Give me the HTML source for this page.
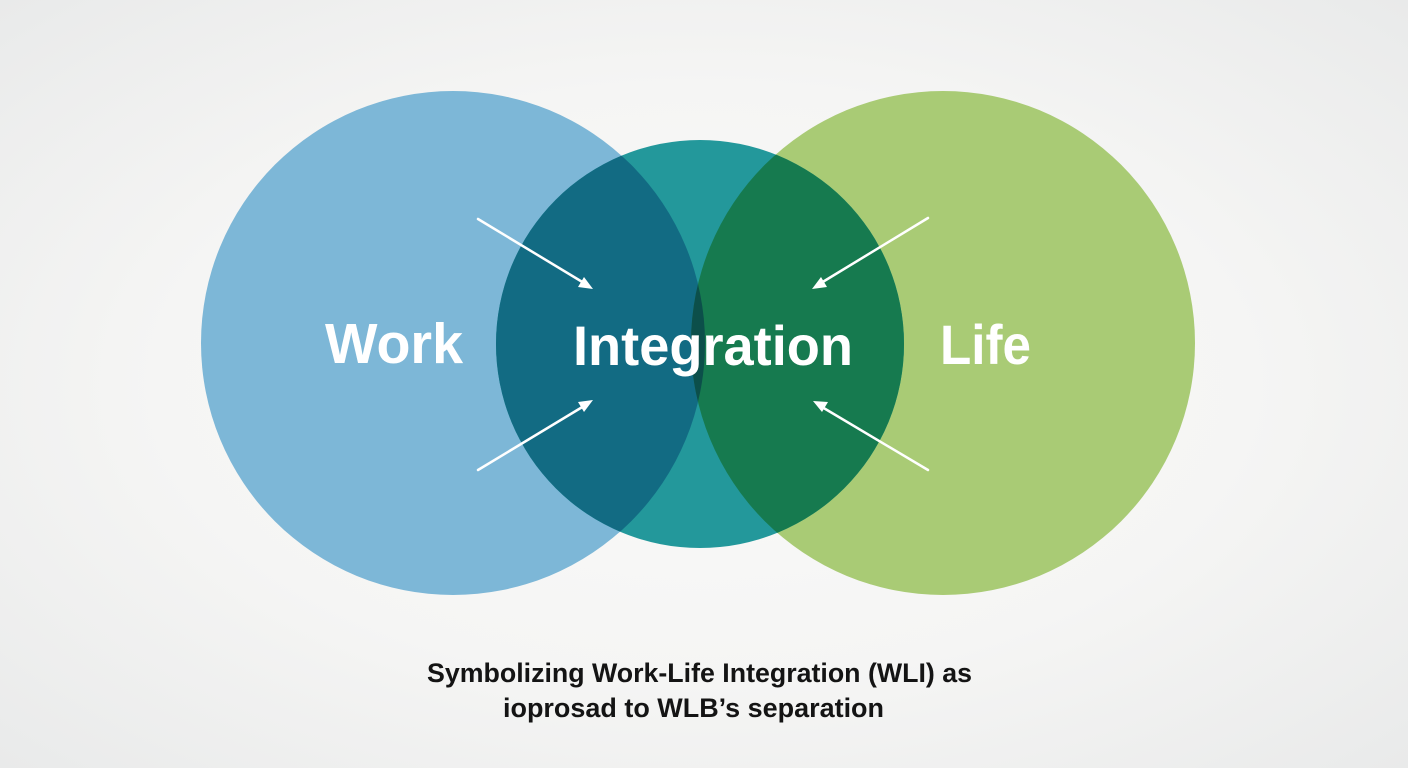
<!DOCTYPE html>
<html>
<head>
<meta charset="utf-8">
<style>
  html, body { margin:0; padding:0; width:1408px; height:768px; overflow:hidden; }
  body { background: radial-gradient(ellipse at 50% 50%, #fafaf9 0%, #f5f5f4 55%, #e9eaea 100%); }
  svg { display:block; }
</style>
</head>
<body>
<svg width="1408" height="768" viewBox="0 0 1408 768" xmlns="http://www.w3.org/2000/svg">
  <defs>
    <clipPath id="cL"><circle cx="453" cy="343" r="252"/></clipPath>
    <clipPath id="cR"><circle cx="943" cy="343" r="252"/></clipPath>
    <clipPath id="cM"><circle cx="700" cy="344" r="204"/></clipPath>
  </defs>
  <circle cx="453" cy="343" r="252" fill="#7db7d7"/>
  <circle cx="943" cy="343" r="252" fill="#a9cb75"/>
  <circle cx="700" cy="344" r="204" fill="#23989b"/>
  <g clip-path="url(#cL)"><circle cx="700" cy="344" r="204" fill="#126b83"/></g>
  <g clip-path="url(#cR)"><circle cx="700" cy="344" r="204" fill="#167a4f"/></g>
  <g clip-path="url(#cM)"><g clip-path="url(#cL)"><circle cx="943" cy="343" r="252" fill="#0c4f4a"/></g></g>

  <!-- arrows -->
  <g stroke="#ffffff" stroke-width="2.5" stroke-linecap="round" fill="none">
    <line x1="478" y1="219" x2="584" y2="283"/>
    <line x1="478" y1="470" x2="584" y2="406"/>
    <line x1="928" y1="218" x2="821" y2="283"/>
    <line x1="928" y1="470" x2="822" y2="407"/>
  </g>
  <g fill="#ffffff">
    <polygon points="593,289 578,287 584,277"/>
    <polygon points="593,400 584,412 578,402"/>
    <polygon points="812,289 821,277 827,287"/>
    <polygon points="813,401 828,402 822,412"/>
  </g>

  <!-- labels -->
  <g font-family="'Liberation Sans', Arial, sans-serif" font-weight="bold" fill="#ffffff">
    <text x="325" y="363" font-size="57" textLength="138" lengthAdjust="spacingAndGlyphs">Work</text>
    <text x="573" y="365" font-size="56" textLength="280" lengthAdjust="spacingAndGlyphs">Integration</text>
    <text x="940" y="364" font-size="56" textLength="91" lengthAdjust="spacingAndGlyphs">Life</text>
  </g>

  <g font-family="'Liberation Sans', Arial, sans-serif" font-weight="bold" fill="#141414" font-size="26.5">
    <text x="427" y="682" textLength="545" lengthAdjust="spacingAndGlyphs">Symbolizing Work-Life Integration (WLI) as</text>
    <text x="503" y="717" textLength="381" lengthAdjust="spacingAndGlyphs">ioprosad to WLB’s separation</text>
  </g>
</svg>
</body>
</html>
